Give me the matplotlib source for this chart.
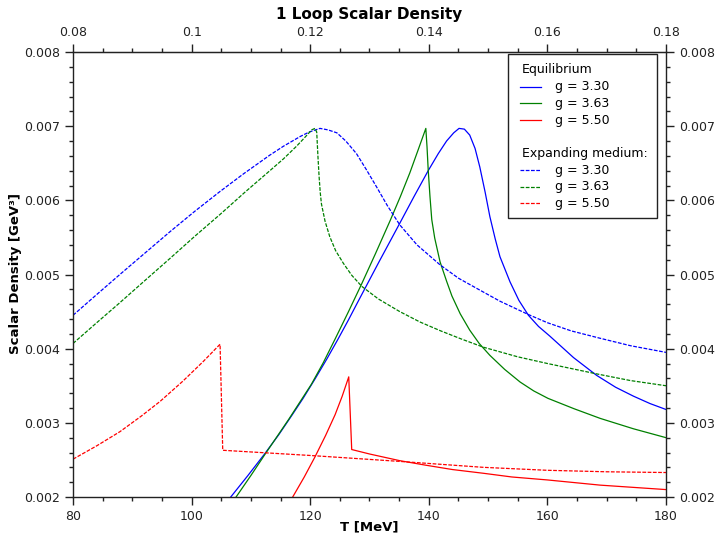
import matplotlib
matplotlib.use("Agg")
import matplotlib.pyplot as plt
from matplotlib.patches import Rectangle
from matplotlib.ticker import FixedLocator, MultipleLocator, FixedFormatter

################################################################################
### data (T in MeV, scalar density in GeV^3)

# equilibrium, g = 3.30
eq_330_T = [106.6, 109.5, 112.4, 114.7, 116.9, 118.8, 120.8, 122.8, 124.7, 126.4,
            128.1, 131.6, 135.1, 137.5, 139.9, 141.6, 143.0, 144.2, 145.1, 146.0,
            146.9, 147.8, 148.6, 149.5, 150.3, 151.2, 152.0, 153.7, 155.2, 156.8,
            158.5, 160.4, 164.4, 168.3, 171.5, 174.5, 177.3, 180.0]
eq_330_s = [0.00200, 0.00229, 0.00259, 0.00284, 0.00310, 0.00333, 0.00359, 0.00386, 0.00413, 0.00438,
            0.00464, 0.00517, 0.00569, 0.00605, 0.00640, 0.00663, 0.00680, 0.00691, 0.00697, 0.00696,
            0.00688, 0.00670, 0.00645, 0.00611, 0.00578, 0.00548, 0.00524, 0.00490, 0.00465, 0.00445,
            0.00430, 0.00417, 0.00388, 0.00364, 0.00348, 0.00336, 0.00326, 0.00318]

# equilibrium, g = 3.63
eq_363_T = [107.5, 110.0, 112.5, 116.4, 120.2, 122.2, 124.2, 126.4, 128.6, 131.0,
            133.5, 135.2, 136.8, 138.2, 139.5, 139.7, 139.9, 140.2, 140.5, 141.0,
            141.9, 143.0, 143.9, 145.3, 146.9, 148.5, 150.3, 152.8, 155.4, 157.7,
            160.1, 164.5, 168.9, 174.5, 180.0]
eq_363_s = [0.00200, 0.00229, 0.00259, 0.00305, 0.00352, 0.00381, 0.00413, 0.00449, 0.00486, 0.00528,
            0.00573, 0.00605, 0.00637, 0.00668, 0.00697, 0.00672, 0.00641, 0.00605, 0.00574, 0.00549,
            0.00517, 0.00491, 0.00471, 0.00447, 0.00425, 0.00407, 0.00391, 0.00372, 0.00355, 0.00343,
            0.00333, 0.00319, 0.00306, 0.00292, 0.00280]

# equilibrium, g = 5.50
eq_550_T = [117.05, 119.0, 120.8, 122.6, 124.2, 125.4, 126.5, 127.0, 130.0, 135.1,
            139.4, 144.0, 149.2, 154.0, 160.0, 168.9, 180.0]
eq_550_s = [0.00200, 0.00227, 0.00254, 0.00283, 0.00311, 0.00336, 0.00362, 0.00264, 0.00258, 0.00249,
            0.00243, 0.00237, 0.00232, 0.00227, 0.00223, 0.00216, 0.00210]

# expanding medium, g = 3.30
ex_330_T = [80.0, 84.0, 87.9, 92.0, 96.4, 100.5, 104.8, 108.8, 113.2, 115.5,
            118.3, 119.8, 121.65, 123.0, 124.5, 126.0, 127.8, 129.5, 131.2, 133.0,
            135.1, 138.0, 141.9, 145.0, 148.6, 152.0, 156.8, 160.0, 164.0, 168.9,
            174.0, 180.0]
ex_330_s = [0.00445, 0.00473, 0.00500, 0.00528, 0.00558, 0.00585, 0.00612, 0.00636, 0.00661, 0.00673,
            0.00686, 0.00692, 0.00697, 0.00695, 0.00691, 0.00680, 0.00663, 0.00641, 0.00618, 0.00593,
            0.00567, 0.00540, 0.00513, 0.00495, 0.00479, 0.00464, 0.00446, 0.00435, 0.00424, 0.00414,
            0.00404, 0.00395]

# expanding medium, g = 3.63
ex_363_T = [80.0, 84.0, 87.9, 92.0, 96.4, 100.6, 104.8, 109.0, 113.2, 115.5,
            117.7, 119.0, 120.25, 120.8, 121.1, 121.3, 121.5, 121.7, 121.9, 122.5,
            123.3, 124.3, 125.6, 127.0, 128.7, 131.5, 135.1, 138.5, 142.0, 145.5,
            149.2, 155.0, 160.0, 168.3, 174.0, 180.0]
ex_363_s = [0.00407, 0.00435, 0.00462, 0.00491, 0.00522, 0.00552, 0.00581, 0.00611, 0.00640, 0.00656,
            0.00673, 0.00684, 0.00695, 0.00697, 0.00692, 0.00660, 0.00632, 0.00610, 0.00595, 0.00572,
            0.00551, 0.00532, 0.00515, 0.00499, 0.00484, 0.00467, 0.00450, 0.00436, 0.00424, 0.00413,
            0.00402, 0.00389, 0.00380, 0.00366, 0.00357, 0.00350]

# expanding medium, g = 5.50
ex_550_T = [80.0, 84.0, 87.9, 91.5, 94.7, 98.5, 102.0, 104.8, 105.25, 120.0,
            135.1, 149.2, 160.0, 170.0, 180.0]
ex_550_s = [0.00251, 0.00269, 0.00288, 0.00309, 0.00329, 0.00356, 0.00383, 0.00406, 0.00263, 0.00256,
            0.00248, 0.00240, 0.00236, 0.00234, 0.00233]

g_labels = ["g = 3.30", "g = 3.63", "g = 5.50"]
colors = ["#0000ff", "#008000", "#ff0000"]

x_ticks = [80, 100, 120, 140, 160, 180]
y_ticks = [0.002, 0.003, 0.004, 0.005, 0.006, 0.007, 0.008]
top_ticks = [0.08, 0.10, 0.12, 0.14, 0.16, 0.18]
top_labels = ["0.08", "0.1", "0.12", "0.14", "0.16", "0.18"]

##############################################################################
# figure

fig = plt.figure(figsize=(7.18, 5.38), dpi=100)
ax = fig.add_axes([73 / 718, 1 - 497 / 538, 593 / 718, 445 / 538])

dash = (0, (3.0, 1.2))
lw = 0.9
eq = [(eq_330_T, eq_330_s), (eq_363_T, eq_363_s), (eq_550_T, eq_550_s)]
ex = [(ex_330_T, ex_330_s), (ex_363_T, ex_363_s), (ex_550_T, ex_550_s)]
for (t, s), c in zip(eq, colors):
    ax.plot(t, s, color=c, lw=lw)
for (t, s), c in zip(ex, colors):
    ax.plot(t, s, color=c, lw=lw, linestyle=dash)

ax.set_xlim(80, 180)
ax.set_ylim(0.002, 0.008)

dark = "#222222"
for sp in ax.spines.values():
    sp.set_color(dark)
    sp.set_linewidth(1.0)

ax.xaxis.set_major_locator(FixedLocator(x_ticks))
ax.xaxis.set_major_formatter(FixedFormatter([str(v) for v in x_ticks]))
ax.xaxis.set_minor_locator(MultipleLocator(5))
ax.yaxis.set_major_locator(FixedLocator(y_ticks))
ax.yaxis.set_major_formatter(FixedFormatter(["%.3f" % v for v in y_ticks]))
ax.yaxis.set_minor_locator(MultipleLocator(0.0002))
ax.tick_params(which="both", direction="out", colors=dark, labelsize=9,
               left=True, right=True, labelleft=True, labelright=True)
ax.tick_params(which="major", length=6, width=1.0)
ax.tick_params(which="minor", length=3.2, width=1.0)

top = ax.secondary_xaxis("top", functions=(lambda t: t / 1000.0, lambda g: g * 1000.0))
top.xaxis.set_major_locator(FixedLocator(top_ticks))
top.xaxis.set_major_formatter(FixedFormatter(top_labels))
top.xaxis.set_minor_locator(MultipleLocator(0.005))
top.tick_params(which="both", direction="out", colors=dark, labelsize=9)
top.tick_params(which="major", length=6, width=1.0)
top.tick_params(which="minor", length=3.2, width=1.0)
top.spines["top"].set_color(dark)

fig.text(369.5 / 718, 1 - 14 / 538, "1 Loop Scalar Density", ha="center", va="center",
         fontsize=11, fontweight="bold")
fig.text(369.5 / 718, 1 - 527 / 538, "T [MeV]", ha="center", va="center",
         fontsize=9.5, fontweight="bold")
fig.text(16 / 718, 1 - 274 / 538, "Scalar Density [GeV³]", ha="center", va="center",
         rotation=90, fontsize=9.5, fontweight="bold")

###############################################################################
# legend drawn by hand (two headed groups in one box)

ax.add_patch(Rectangle((0.7336, 0.627), 0.2512, 0.3685, transform=ax.transAxes,
                       facecolor="white", edgecolor=dark, lw=1.0, zorder=5))
row_y = 0.9596
step = 0.0375
rows = [("Equilibrium", None, None)]
rows += [(lab, c, "-") for lab, c in zip(g_labels, colors)]
rows += [(None, None, None), ("Expanding medium:", None, None)]
rows += [(lab, c, dash) for lab, c in zip(g_labels, colors)]
for i, (lab, c, ls) in enumerate(rows):
    y = row_y - i * step
    if lab is None:
        continue
    if c is None:
        ax.text(0.7566, y, lab, transform=ax.transAxes, fontsize=9, va="center", zorder=6)
    else:
        ax.plot([0.7538, 0.7892], [y, y], transform=ax.transAxes, color=c, lw=lw,
                linestyle=ls, zorder=6)
        ax.text(0.8128, y, lab, transform=ax.transAxes, fontsize=9, va="center", zorder=6)

fig.savefig("out.png", dpi=100)
